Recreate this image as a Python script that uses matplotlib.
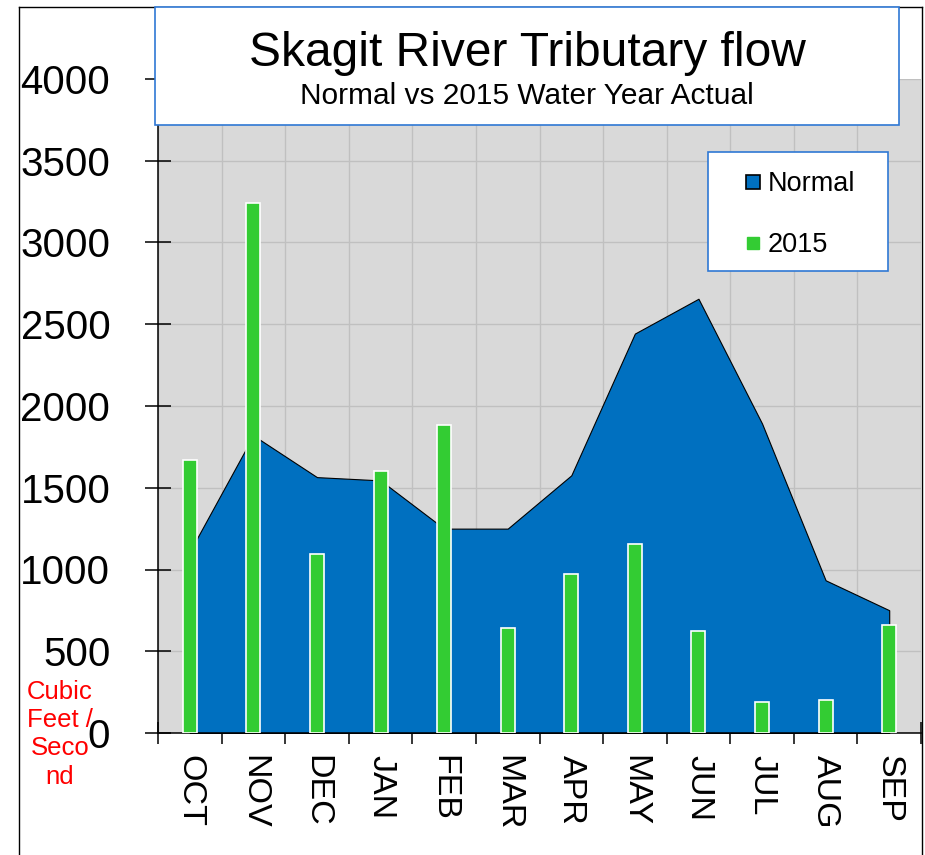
import numpy as np
import matplotlib
matplotlib.use("Agg")
import matplotlib.pyplot as plt
from matplotlib.patches import Rectangle
from matplotlib.lines import Line2D

# data
months = ["OCT", "NOV", "DEC", "JAN", "FEB", "MAR", "APR", "MAY", "JUN", "JUL", "AUG", "SEP"]
normal = [1110, 1820, 1565, 1545, 1250, 1250, 1576, 2443, 2656, 1893, 934, 751]
actual_2015 = [1667, 3243, 1093, 1600, 1881, 641, 971, 1154, 623, 189, 202, 660]
y_ticks = [0, 500, 1000, 1500, 2000, 2500, 3000, 3500, 4000]

plt.rcParams["font.family"] = ["Liberation Sans", "DejaVu Sans"]

W, H = 925, 855
fig = plt.figure(figsize=(W / 100, H / 100), dpi=100)
ax = fig.add_axes([158 / W, 1 - 733 / H, (921 - 158) / W, (733 - 79) / H])
ax.set_facecolor("#d9d9d9")

x = np.arange(len(months))
ax.fill_between(x, normal, 0, facecolor="#0070c0", edgecolor="black", lw=0.8, zorder=2)
ax.bar(x, actual_2015, width=0.22, color="#33cc33", edgecolor="white", lw=1.2, zorder=3)

ax.set_xlim(-0.5, len(months) - 0.5)
ax.set_ylim(0, 4000)

# labels at the centres, tick marks at the boundaries
ax.set_xticks(x)
ax.set_xticklabels(months, rotation=270, fontsize=24.5)
ax.set_xticks(np.arange(-0.5, len(months)), minor=True)
ax.tick_params(axis="x", which="major", length=0, pad=16)
ax.tick_params(axis="x", which="minor", length=16.5, width=1.1, direction="inout")
ax.set_yticks(y_ticks)
ax.set_yticklabels([str(v) for v in y_ticks], fontsize=29)
ax.tick_params(axis="y", length=18.7, width=1.1, direction="inout", pad=25)

ax.grid(True, axis="y", which="major", color="#c0c0c0", lw=1.0, zorder=0)
ax.grid(True, axis="x", which="minor", color="#c0c0c0", lw=1.0, zorder=0)
ax.set_axisbelow(True)
for s in ["top", "right"]:
    ax.spines[s].set_visible(False)
ax.spines["left"].set_linewidth(1.1)
ax.spines["bottom"].set_linewidth(1.1)

# y axis caption in red
fig.text(60 / W, 1 - 680 / H, "Cubic\nFeet /\nSeco\nnd", color="red", fontsize=18.5,
         ha="center", va="top", linespacing=1.22)

# outer frame
for xs, ys in [([19, 19], [855, 7]), ([19, 922], [7, 7]), ([922, 922], [7, 855])]:
    fig.add_artist(Line2D([v / W for v in xs], [1 - v / H for v in ys], color="black", lw=1.0))

# title box
fig.add_artist(Rectangle((155 / W, 1 - 125 / H), (899 - 155) / W, (125 - 7) / H,
                         transform=fig.transFigure, facecolor="white", edgecolor="#2f78d4",
                         lw=1.2, zorder=4))
fig.text(527 / W, 1 - 66 / H, "Skagit River Tributary flow", fontsize=34.5,
         ha="center", va="baseline", zorder=5)
fig.text(527 / W, 1 - 104 / H, "Normal vs 2015 Water Year Actual", fontsize=21.5,
         ha="center", va="baseline", zorder=5)

# legend box
fig.add_artist(Rectangle((708 / W, 1 - 271 / H), (888 - 708) / W, (271 - 152) / H,
                         transform=fig.transFigure, facecolor="white", edgecolor="#2f78d4",
                         lw=1.2, zorder=4))
handles = [
    Line2D([], [], ls="", marker="s", markersize=10.5, markerfacecolor="#0070c0",
           markeredgecolor="black", markeredgewidth=1.2),
    Line2D([], [], ls="", marker="s", markersize=8, markerfacecolor="#33cc33",
           markeredgecolor="#33cc33"),
]
leg = fig.legend(handles, ["Normal", "2015"], loc="upper left",
                 bbox_to_anchor=(745 / W, 1 - 171 / H), frameon=False, fontsize=19.5,
                 borderpad=0, borderaxespad=0, handlelength=0.6, handletextpad=0.25,
                 labelspacing=1.3)
leg.set_zorder(6)

fig.savefig("out.png", dpi=100)
